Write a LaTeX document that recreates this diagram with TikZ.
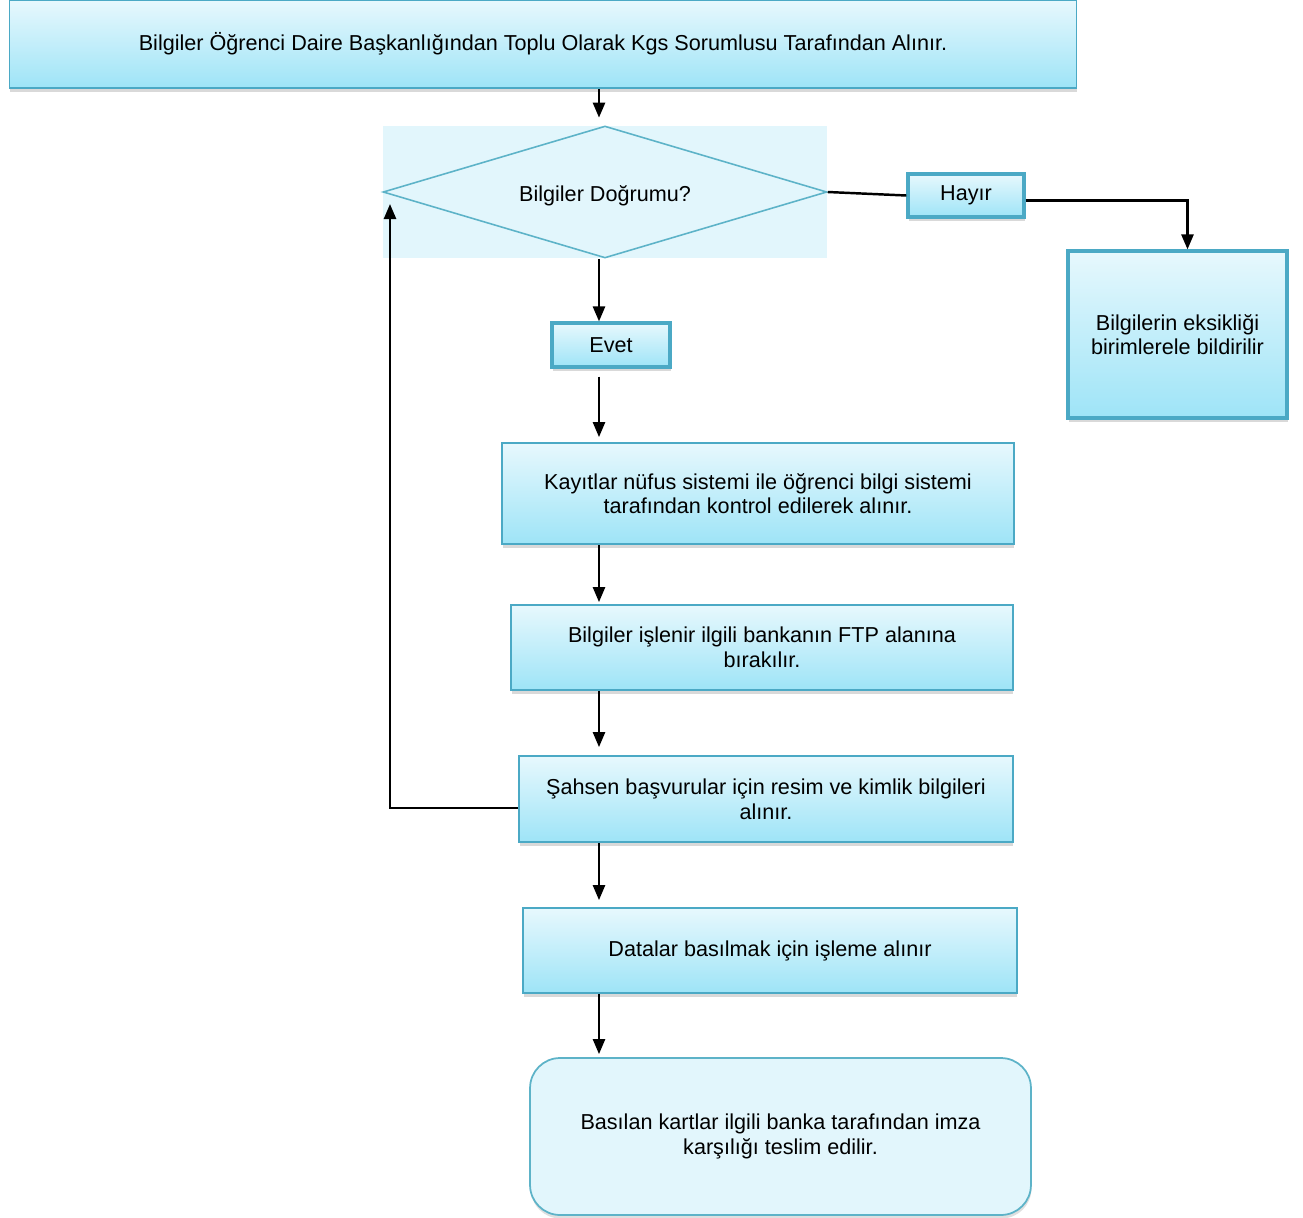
\documentclass[tikz,border=0pt]{standalone}
\usepackage{fontspec}
\setmainfont{Liberation Sans}
\usetikzlibrary{positioning,shapes.geometric,arrows.meta,shadows}

\definecolor{kenar}{HTML}{4BA9C5}
\definecolor{ustrenk}{HTML}{E7F8FD}
\definecolor{altrenk}{HTML}{9EE4F7}
\definecolor{acik}{HTML}{E2F6FC}
\definecolor{karkenar}{HTML}{5DB3C8}

\begin{document}
\begin{tikzpicture}[
    x=0.02cm, y=-0.02cm,
    every node/.style={align=center, font=\fontsize{12.3pt}{14pt}\selectfont},
    islem/.style={draw=kenar, line width=1pt, top color=ustrenk, bottom color=altrenk,
        drop shadow={shadow xshift=0.3pt, shadow yshift=-2pt, opacity=0.3, fill=gray}},
    cevap/.style={islem, line width=1.8pt},
    karar/.style={diamond, draw=karkenar, line width=0.9pt, fill=acik, inner sep=0pt,
        aspect=3.36, minimum width=8.88cm, minimum height=2.64cm},
    son/.style={draw=karkenar, line width=1pt, fill=acik, rounded corners=0.6cm,
        drop shadow={shadow xshift=0.3pt, shadow yshift=-2pt, opacity=0.25, fill=gray}},
    ok/.style={-{Triangle[length=0.3cm, width=0.24cm]}, line width=1.4pt}
]
\useasboundingbox (0,0) rectangle (1303,1218);

% Başlangıç
\node[islem, minimum width=21.34cm, minimum height=1.76cm] (baslik) at (543,44)
    {Bilgiler Öğrenci Daire Başkanlığından Toplu Olarak Kgs Sorumlusu Tarafından Alınır.};

% Karar
\node[fill=acik, minimum width=8.88cm, minimum height=2.64cm, inner sep=0pt] (kararbg) at (605,192) {};
\node[karar] (karar) at (605,192) {\raisebox{0pt}[\dimexpr\height+0.16cm\relax]{Bilgiler Doğrumu?}};

\node[cevap, minimum width=2.32cm, minimum height=0.86cm] (hayir) at (966,195.5) {Hayır};
\node[cevap, minimum width=4.38cm, minimum height=3.34cm] (eksik) at (1177.5,334.5)
    {Bilgilerin eksikliği\\ birimlerele bildirilir};
\node[cevap, minimum width=2.36cm, minimum height=0.88cm] (evet) at (611,345) {Evet};

% Adımlar
\node[islem, minimum width=10.24cm, minimum height=2.02cm] (kayit) at (758,493.5)
    {Kayıtlar nüfus sistemi ile öğrenci bilgi sistemi\\ tarafından kontrol edilerek alınır.};
\node[islem, minimum width=10.04cm, minimum height=1.70cm] (ftp) at (762,647.5)
    {Bilgiler işlenir ilgili bankanın FTP alanına\\ bırakılır.};
\node[islem, minimum width=9.88cm, minimum height=1.72cm] (sahsen) at (766,799)
    {Şahsen başvurular için resim ve kimlik bilgileri\\ alınır.};
\node[islem, minimum width=9.88cm, minimum height=1.70cm] (data) at (770,950.5)
    {Datalar basılmak için işleme alınır};
\node[son, minimum width=10.02cm, minimum height=3.14cm] (teslim) at (780.5,1136.5)
    {Basılan kartlar ilgili banka tarafından imza\\ karşılığı teslim edilir.};

% Bağlantılar
\coordinate (hat) at (599,0);
\coordinate (geri) at (390,0);
\draw[ok, shorten >=0.16cm] (baslik.south -| hat) -- (kararbg.north -| hat);
\draw[ok] (karar.south -| hat) -- (evet.north -| hat);
\draw[ok, shorten <=0.16cm, shorten >=0.1cm] (evet.south -| hat) -- (kayit.north -| hat);
\draw[ok, shorten >=0.04cm] (kayit.south -| hat) -- (ftp.north -| hat);
\draw[ok, shorten >=0.16cm] (ftp.south -| hat) -- (sahsen.north -| hat);
\draw[ok, shorten >=0.14cm] (sahsen.south -| hat) -- (data.north -| hat);
\draw[ok, shorten >=0.06cm] (data.south -| hat) -- (teslim.north -| hat);
\draw[line width=1.4pt] (karar.east) -- (hayir.west);
\draw[ok] ([yshift=-0.1cm]hayir.east) -| ([xshift=0.2cm]eksik.north);
\draw[ok] ([yshift=-0.18cm]sahsen.west) -| ([yshift=-0.24cm]karar.west -| geri);

\end{tikzpicture}
\end{document}
